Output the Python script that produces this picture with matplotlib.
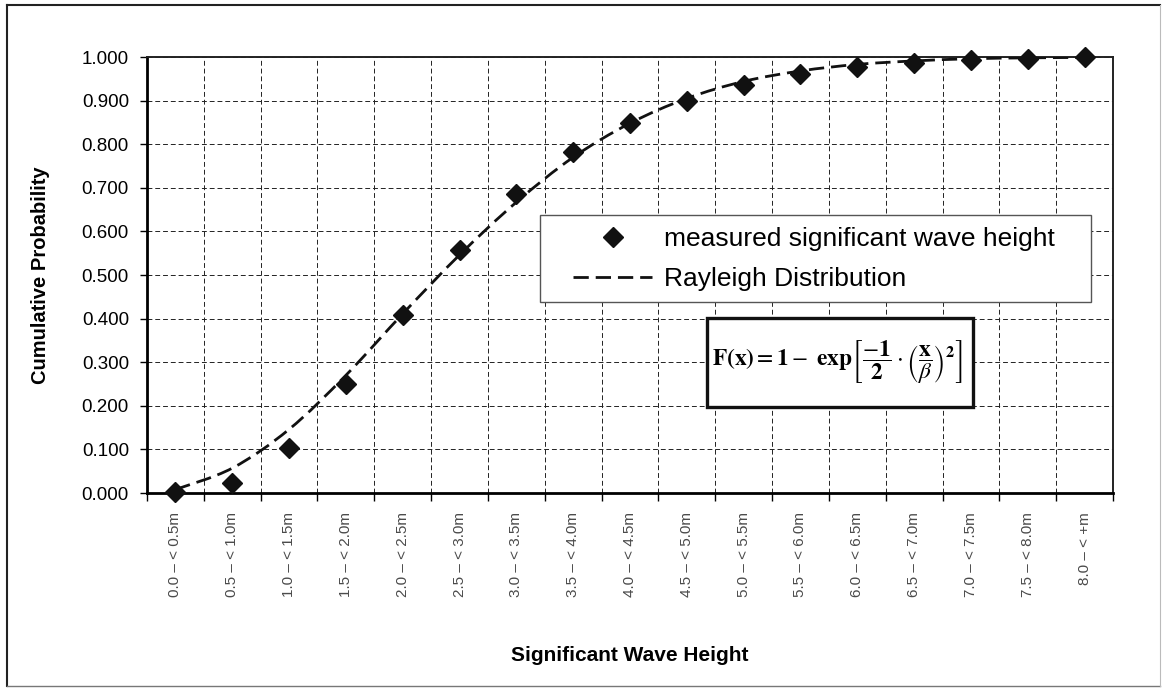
import matplotlib
matplotlib.use("Agg")
import matplotlib.pyplot as plt
import numpy as np
from matplotlib.path import Path
from matplotlib.patches import PathPatch, Rectangle
from matplotlib.lines import Line2D

# wave height classes (one per category on the x axis)
classes = ["0.0 – < 0.5m", "0.5 – < 1.0m", "1.0 – < 1.5m", "1.5 – < 2.0m",
           "2.0 – < 2.5m", "2.5 – < 3.0m", "3.0 – < 3.5m", "3.5 – < 4.0m",
           "4.0 – < 4.5m", "4.5 – < 5.0m", "5.0 – < 5.5m", "5.5 – < 6.0m",
           "6.0 – < 6.5m", "6.5 – < 7.0m", "7.0 – < 7.5m", "7.5 – < 8.0m",
           "8.0 – < +m"]

# cumulative probability of the measured significant wave height
measured = [0.003, 0.022, 0.104, 0.249, 0.409, 0.557, 0.686, 0.781, 0.849,
            0.899, 0.935, 0.961, 0.977, 0.986, 0.992, 0.996, 1.000]

# fitted Rayleigh distribution per class
rayleigh = [0.008, 0.057, 0.146, 0.270, 0.411, 0.546, 0.667, 0.770, 0.848,
            0.905, 0.944, 0.968, 0.983, 0.991, 0.996, 0.998, 0.999]

yticks = [0.0, 0.1, 0.2, 0.3, 0.4, 0.5, 0.6, 0.7, 0.8, 0.9, 1.0]

plt.rcParams['font.family'] = ['Liberation Sans', 'DejaVu Sans']
plt.rcParams['mathtext.fontset'] = 'stix'

W, H = 1165, 692
fig = plt.figure(figsize=(W / 100, H / 100), dpi=100)
ax = fig.add_axes([147 / W, 1 - 493 / H, (1113 - 147) / W, (493 - 57) / H])

idx = np.arange(len(classes))
dash = (0, (5.5, 2.5))


def smooth_path(xs, ys):
    # bezier segments through every point, like a smoothed spreadsheet line
    pts = np.column_stack([xs, ys]).astype(float)
    n = len(pts)
    verts = [pts[0]]
    codes = [Path.MOVETO]
    for i in range(n - 1):
        p0 = pts[max(i - 1, 0)]
        p1 = pts[i]
        p2 = pts[i + 1]
        p3 = pts[min(i + 2, n - 1)]
        c1 = p1 + (p2 - p0) / 6.0
        c2 = p2 - (p3 - p1) / 6.0
        verts += [c1, c2, p2]
        codes += [Path.CURVE4] * 3
    return Path(verts, codes)


curve = PathPatch(smooth_path(idx, rayleigh), fill=False, edgecolor='#111111',
                  linewidth=2.0, linestyle=dash, zorder=3)
ax.add_patch(curve)

ax.plot(idx, measured, linestyle='none', marker='D', markersize=10.5,
        color='#111111', zorder=4, clip_on=False)

ax.set_xlim(-0.5, len(classes) - 0.5)
ax.set_ylim(0, 1)

# labels sit at class centres, ticks and grid on class boundaries
ax.set_xticks(idx)
ax.set_xticklabels(classes, rotation=90, fontsize=11, color='#4a4a4a')
ax.set_xticks(np.arange(-0.5, len(classes)), minor=True)
ax.tick_params(axis='x', which='major', length=0, pad=14)
ax.tick_params(axis='x', which='minor', length=6, width=1.0, direction='out')

ax.set_yticks(yticks)
ax.set_yticklabels([f"{v:.3f}" for v in yticks], fontsize=13.5)
ax.tick_params(axis='y', length=5, width=1.0, direction='out', pad=8)

ax.grid(True, axis='y', which='major', color='#222222', linewidth=0.7,
        linestyle=(0, (5, 3)))
ax.grid(True, axis='x', which='minor', color='#222222', linewidth=0.7,
        linestyle=(0, (5, 3)))
ax.set_axisbelow(True)

for side in ['left', 'bottom']:
    ax.spines[side].set_linewidth(2.0)
for side in ['top', 'right']:
    ax.spines[side].set_linewidth(1.4)
    ax.spines[side].set_color('#222222')

ax.set_ylabel("Cumulative Probability", fontsize=14.5, fontweight='bold')
ax.yaxis.set_label_coords(-0.1004, 0.5)
ax.set_xlabel("Significant Wave Height", fontsize=15, fontweight='bold')
ax.xaxis.set_label_coords(0.5, -0.351)

# legend in its own frame
fig.add_artist(Rectangle((540 / W, 1 - 302 / H), (1091 - 540) / W, 87 / H,
                         transform=fig.transFigure, facecolor='white',
                         edgecolor='#555555', linewidth=1.0, zorder=5))
handles = [Line2D([], [], linestyle='none', marker='D', markersize=10.5,
                  color='#111111'),
           Line2D([], [], color='#111111', linewidth=2.0, linestyle=dash)]
leg = fig.legend(handles, ["measured significant wave height",
                           "Rayleigh Distribution"],
                 loc='upper left', bbox_to_anchor=(573 / W, 1 - 227 / H),
                 frameon=False, fontsize=19, borderpad=0, borderaxespad=0,
                 handlelength=3.0, handletextpad=0.45, labelspacing=0.62)
leg.set_zorder(6)

# formula box
fig.add_artist(Rectangle((707 / W, 1 - 407 / H), (973 - 707) / W, 89 / H,
                         transform=fig.transFigure, facecolor='white',
                         edgecolor='#111111', linewidth=2.4, zorder=5))
fig.text(712 / W, 1 - 362 / H,
         r'$\mathbf{F(x)} = \mathbf{1} -\ \mathbf{exp}\left[\dfrac{-\mathbf{1}}{\mathbf{2}}'
         r'\cdot\left(\dfrac{\mathbf{x}}{\beta}\right)^{\mathbf{2}}\right]$',
         fontsize=16.8, ha='left', va='center', zorder=7)

# outer chart border
fig.add_artist(Line2D([7 / W, 7 / W], [1 - 686 / H, 1 - 5 / H],
                      transform=fig.transFigure, color='#222222', linewidth=1.5))
fig.add_artist(Line2D([7 / W, 1160 / W], [1 - 5 / H, 1 - 5 / H],
                      transform=fig.transFigure, color='#222222', linewidth=1.5))
fig.add_artist(Line2D([7 / W, 1160 / W], [1 - 686 / H, 1 - 686 / H],
                      transform=fig.transFigure, color='#777777', linewidth=1.0))
fig.add_artist(Line2D([1160 / W, 1160 / W], [1 - 686 / H, 1 - 5 / H],
                      transform=fig.transFigure, color='#bbbbbb', linewidth=0.8))

fig.savefig("out.png", dpi=100)
